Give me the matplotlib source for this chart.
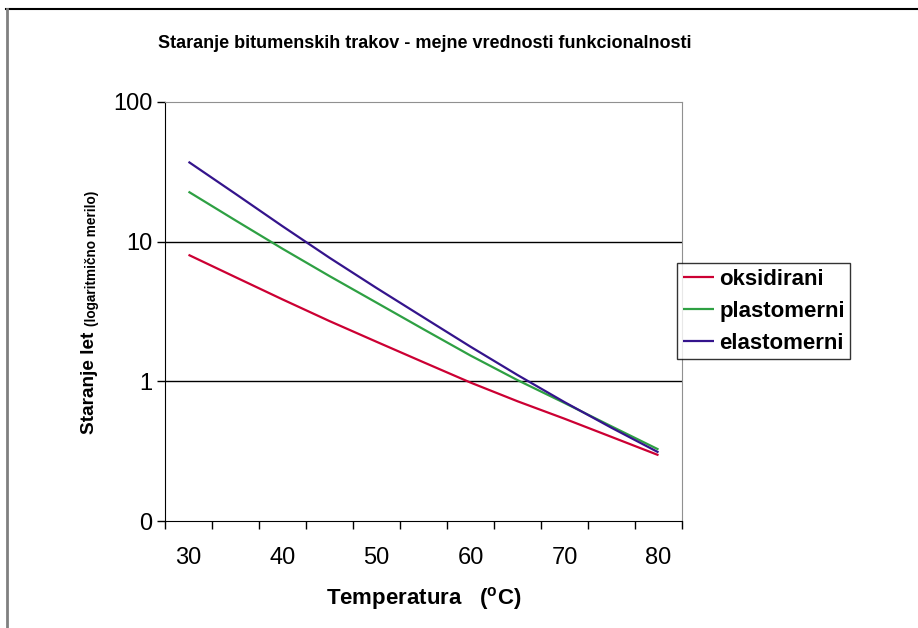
import numpy as np
import matplotlib
matplotlib.use('Agg')
import matplotlib.pyplot as plt
from matplotlib.lines import Line2D

plt.rcParams['font.family'] = ['Liberation Sans', 'DejaVu Sans']
plt.rcParams['mathtext.fontset'] = 'custom'
plt.rcParams['mathtext.rm'] = 'Liberation Sans'
plt.rcParams['mathtext.bf'] = 'Liberation Sans:bold'

# temperature categories (5 degree steps)
temperature = [30, 35, 40, 45, 50, 55, 60, 65, 70, 75, 80]
tick_labels = ['30', '40', '50', '60', '70', '80']

# ageing in years
oksidirani = [8.05, 5.57, 3.86, 2.70, 1.92, 1.37, 0.98, 0.72, 0.54, 0.40, 0.296]
plastomerni = [22.8, 14.2, 8.9, 5.67, 3.66, 2.36, 1.53, 1.02, 0.70, 0.476, 0.325]
elastomerni = [37.3, 22.0, 12.9, 7.67, 4.66, 2.87, 1.77, 1.11, 0.71, 0.465, 0.31]

series = [
    ('oksidirani', oksidirani, '#cc0033'),
    ('plastomerni', plastomerni, '#2ea043'),
    ('elastomerni', elastomerni, '#34148c'),
]

fig = plt.figure(figsize=(9.18, 6.28), dpi=100)
ax = fig.add_axes([165 / 918, 1 - 521 / 628, (682 - 165) / 918, (521 - 102) / 628])

handles = []
for name, vals, col in series:
    h, = ax.plot(temperature, vals, color=col, lw=1.6, label=name, solid_capstyle='butt')
    handles.append(h)

ax.set_yscale('log')
ax.set_ylim(0.1, 100)
ax.set_yticks([0.1, 1, 10, 100])
ax.set_yticklabels(['0', '1', '10', '100'])
ax.yaxis.set_minor_locator(matplotlib.ticker.NullLocator())
ax.tick_params(axis='y', which='major', length=6, width=1, direction='out', labelsize=17, pad=3)

ax.set_xlim(27.5, 82.5)
ax.set_xticks(np.arange(27.5, 83, 5))
ax.set_xticklabels([])
ax.set_xticks([30, 40, 50, 60, 70, 80], minor=True)
ax.set_xticklabels(tick_labels, minor=True)
ax.tick_params(axis='x', which='major', length=6, width=1, direction='out')
ax.tick_params(axis='x', which='minor', length=0, labelsize=17, pad=19)

for y in [1, 10]:
    ax.axhline(y, color='black', lw=1, zorder=1)

ax.spines['left'].set_color('black')
ax.spines['bottom'].set_color('black')
ax.spines['top'].set_color('#909090')
ax.spines['right'].set_color('#909090')

fig.text(425 / 918, 1 - 44 / 628, 'Staranje bitumenskih trakov - mejne vrednosti funkcionalnosti',
         ha='center', va='center', fontsize=13, fontweight='bold')

fig.text(424 / 918, 1 - 598 / 628, r'Temperatura   ($^{\mathbf{o}}$C)',
         ha='center', va='center', fontsize=16, fontweight='bold')

fig.text(89 / 918, 1 - 434 / 628, 'Staranje let', rotation=90, ha='center', va='bottom',
         fontsize=13.7, fontweight='bold')
fig.text(92 / 918, 1 - 326 / 628, '(logaritmično merilo)', rotation=90, ha='center', va='bottom',
         fontsize=9.8, fontweight='bold')

leg = fig.legend(handles=handles, loc='upper left', bbox_to_anchor=(677 / 918, 1 - 263 / 628),
                 prop={'weight': 'bold', 'size': 16}, frameon=True, fancybox=False,
                 handlelength=1.4, handletextpad=0.25, borderpad=0.25, labelspacing=0.5,
                 borderaxespad=0)
leg.get_frame().set_edgecolor('black')
leg.get_frame().set_linewidth(1)

# chart area border
fig.add_artist(Line2D([6 / 918, 1], [1 - 9 / 628, 1 - 9 / 628], color='black', lw=1.5,
                      transform=fig.transFigure))
fig.add_artist(Line2D([7 / 918, 7 / 918], [0, 1 - 9 / 628], color='#808080', lw=2,
                      transform=fig.transFigure))

fig.savefig('out.png', dpi=100)
